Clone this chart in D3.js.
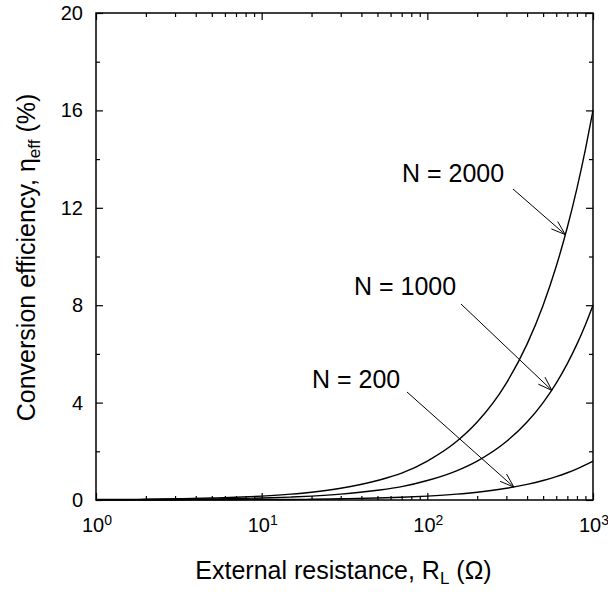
<!DOCTYPE html>
<html>
<head>
<meta charset="utf-8">
<script src="https://cdn.jsdelivr.net/npm/d3@7"></script>
<style>
  body { margin: 0; background: #fff; }
  text { font-family: "Liberation Sans", Arial, sans-serif; fill: #000; }
</style>
</head>
<body>
<svg id="chart" width="608" height="592"></svg>
<script>
'use strict';

// values
const resistance = [1, 1.5, 2, 3, 5, 7, 10, 15, 20, 30, 50, 70, 100, 150, 200, 300, 400, 500, 600, 700, 800, 900, 1000];
const eff2000 = [0.02, 0.02, 0.03, 0.05, 0.08, 0.11, 0.16, 0.24, 0.32, 0.48, 0.8, 1.1, 1.6, 2.4, 3.2, 4.8, 6.4, 8.0, 9.6, 11.2, 12.8, 14.4, 16.0];
const eff1000 = [0.01, 0.01, 0.02, 0.02, 0.04, 0.06, 0.08, 0.12, 0.16, 0.24, 0.4, 0.55, 0.8, 1.2, 1.6, 2.4, 3.2, 4.0, 4.8, 5.6, 6.4, 7.2, 8.0];
const eff200 = [0.0, 0.0, 0.0, 0.0, 0.01, 0.01, 0.02, 0.02, 0.03, 0.05, 0.08, 0.11, 0.16, 0.24, 0.32, 0.48, 0.64, 0.8, 0.96, 1.12, 1.28, 1.44, 1.6];
const seriesValues = [eff2000, eff1000, eff200];

const xDecades = [1, 10, 100, 1000];
const xDecadeExp = ['0', '1', '2', '3'];
const yTicks = [0, 4, 8, 12, 16, 20];

// annotation labels and the point on each curve the arrow points to
const labels = ['N = 2000', 'N = 1000', 'N = 200'];
const arrowTipR = [680, 565, 333];
const arrowTipEff = [10.9, 4.5, 0.53];

const margin = {left: 96, top: 13, right: 15, bottom: 92};
const width = 608 - margin.left - margin.right;
const height = 592 - margin.top - margin.bottom;

const svg = d3.select('#chart');
const g = svg.append('g').attr('transform', `translate(${margin.left},${margin.top})`);

const x = d3.scaleLog().domain([1, 1000]).range([0, width]);
const y = d3.scaleLinear().domain([0, 20]).range([height, 0]);

// minor ticks 2..9 in every decade
const xMinor = [];
[1, 10, 100].forEach(d => { for (let k = 2; k <= 9; k++) xMinor.push(d * k); });
const yMinor = d3.range(2, 20, 4);

function tickStyle(sel) {
  sel.select('.domain').remove();
  sel.selectAll('line').attr('stroke', '#000').attr('stroke-width', 1.2);
  sel.selectAll('text').remove();
}

g.append('g').attr('transform', `translate(0,${height})`)
  .call(d3.axisBottom(x).tickValues(xDecades).tickSize(-7)).call(tickStyle);
g.append('g').attr('transform', `translate(0,${height})`)
  .call(d3.axisBottom(x).tickValues(xMinor).tickSize(-4)).call(tickStyle);
g.append('g')
  .call(d3.axisTop(x).tickValues(xDecades).tickSize(-7)).call(tickStyle);
g.append('g')
  .call(d3.axisTop(x).tickValues(xMinor).tickSize(-4)).call(tickStyle);
g.append('g')
  .call(d3.axisLeft(y).tickValues(yTicks).tickSize(-7)).call(tickStyle);
g.append('g')
  .call(d3.axisLeft(y).tickValues(yMinor).tickSize(-4)).call(tickStyle);
g.append('g').attr('transform', `translate(${width},0)`)
  .call(d3.axisRight(y).tickValues(yTicks).tickSize(-7)).call(tickStyle);
g.append('g').attr('transform', `translate(${width},0)`)
  .call(d3.axisRight(y).tickValues(yMinor).tickSize(-4)).call(tickStyle);

// curves
const line = d3.line()
  .x((d, i) => x(resistance[i]))
  .y(d => y(d))
  .curve(d3.curveMonotoneX);

g.selectAll('path.curve')
  .data(seriesValues)
  .join('path')
  .attr('class', 'curve')
  .attr('d', line)
  .attr('fill', 'none')
  .attr('stroke', '#000')
  .attr('stroke-width', 1.4);

// frame
g.append('rect')
  .attr('width', width)
  .attr('height', height)
  .attr('fill', 'none')
  .attr('stroke', '#000')
  .attr('stroke-width', 1.5);

// y tick labels
g.selectAll('text.ylab')
  .data(yTicks)
  .join('text')
  .attr('class', 'ylab')
  .attr('x', -13)
  .attr('y', d => y(d) + 7)
  .attr('text-anchor', 'end')
  .attr('font-size', 20)
  .text(d => d);

// x tick labels, 10 with superscript exponent
const xl = g.selectAll('text.xlab')
  .data(xDecades)
  .join('text')
  .attr('class', 'xlab')
  .attr('x', d => x(d) + 1)
  .attr('y', height + 32)
  .attr('text-anchor', 'middle')
  .attr('font-size', 20);
xl.append('tspan').text('10');
xl.append('tspan')
  .attr('dy', -7)
  .attr('font-size', 14)
  .text((d, i) => xDecadeExp[i]);

// axis titles
const xt = g.append('text')
  .attr('x', width / 2 - 1)
  .attr('y', height + 79)
  .attr('text-anchor', 'middle')
  .attr('font-size', 25);
xt.append('tspan').text('External resistance, R');
xt.append('tspan').attr('font-size', 17).attr('dy', 5).text('L');
xt.append('tspan').attr('dy', -5).text(' (Ω)');

const yt = g.append('text')
  .attr('transform', `translate(-61,${height / 2 + 1}) rotate(-90)`)
  .attr('text-anchor', 'middle')
  .attr('font-size', 25);
yt.append('tspan').text('Conversion efficiency, η');
yt.append('tspan').attr('font-size', 17).attr('dy', 5).text('eff');
yt.append('tspan').attr('dy', -5).text(' (%)');

// annotations (label position and arrow tail in page pixels)
const labelPos = [[402, 182], [354, 295], [312, 388]];
const tailPos = [[513, 189], [461, 304], [407, 392]];

labels.forEach((txt, i) => {
  svg.append('text')
    .attr('x', labelPos[i][0])
    .attr('y', labelPos[i][1])
    .attr('font-size', 25)
    .text(txt);

  const tx = margin.left + x(arrowTipR[i]);
  const ty = margin.top + y(arrowTipEff[i]);
  const sx = tailPos[i][0], sy = tailPos[i][1];
  const ang = Math.atan2(ty - sy, tx - sx);
  const len = 15, spread = 0.33;
  const p1 = [tx - len * Math.cos(ang - spread), ty - len * Math.sin(ang - spread)];
  const p2 = [tx - len * Math.cos(ang + spread), ty - len * Math.sin(ang + spread)];

  svg.append('path')
    .attr('d', `M${sx},${sy}L${tx},${ty}M${p1[0]},${p1[1]}L${tx},${ty}L${p2[0]},${p2[1]}`)
    .attr('fill', 'none')
    .attr('stroke', '#000')
    .attr('stroke-width', 1);
});
</script>
</body>
</html>
